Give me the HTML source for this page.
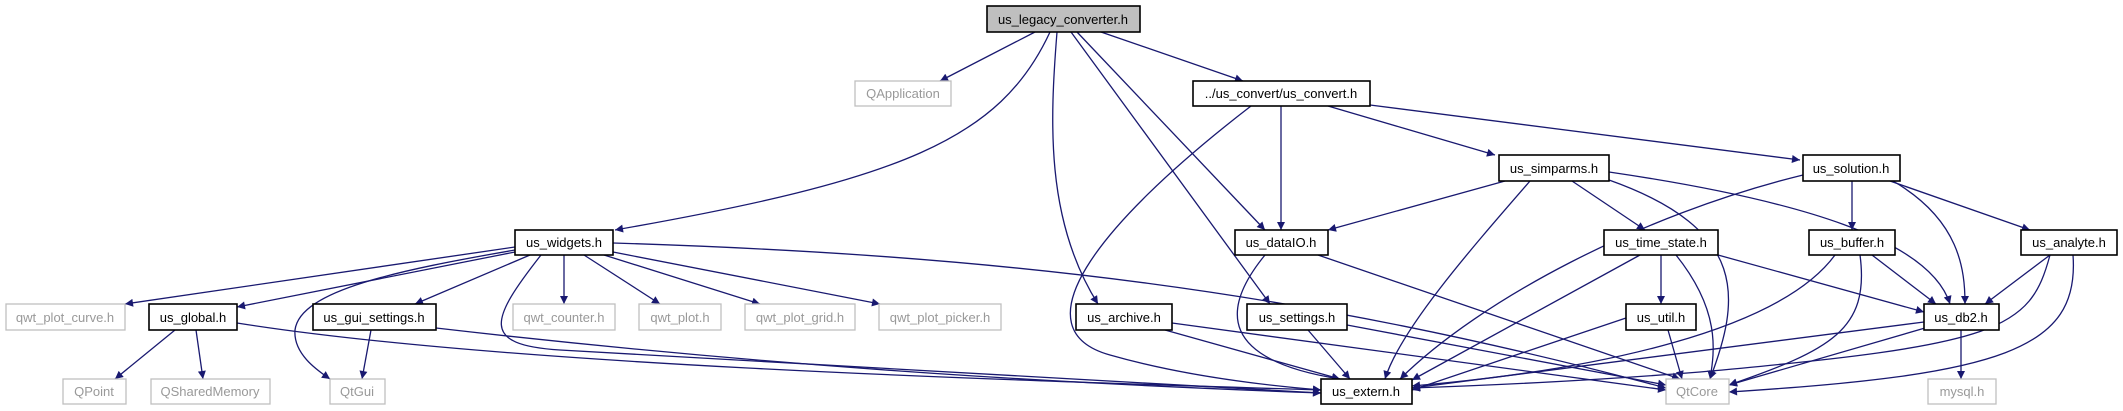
<!DOCTYPE html>
<html><head><meta charset="utf-8"><style>
html,body{margin:0;padding:0;background:#fff;}
svg{display:block;}
text{font-family:"Liberation Sans",Arial,sans-serif;font-size:13px;fill:#000;}
.e{fill:none;stroke:#191970;stroke-width:1.3;}
.n{fill:#fff;stroke:#000;stroke-width:1.6;}
.x{fill:#fff;stroke:#bfbfbf;stroke-width:1.3;}
.xt{fill:#999;}
</style></head><body>
<svg width="2123" height="411" viewBox="0 0 2123 411" xmlns="http://www.w3.org/2000/svg">
<defs>
<marker id="a" viewBox="0 0 10 10" refX="10" refY="5" markerWidth="10" markerHeight="8" markerUnits="userSpaceOnUse" orient="auto">
<path d="M0,0 L10,5 L0,10 z" fill="#191970"/>
</marker>
</defs>
<g class="e" marker-end="url(#a)">
<path d="M1035,32 L940,81"/>
<path d="M1050,32 C1000,140 900,180 615,230"/>
<path d="M1057,32 C1050,120 1045,220 1098,304"/>
<path d="M1071,32 L1270,304"/>
<path d="M1077,32 L1265,230"/>
<path d="M1101,32 L1243,81"/>
<path d="M1281,106 L1281,230"/>
<path d="M1251,106 C1090,230 1020,330 1110,355 C1180,375 1260,385 1321,390"/>
<path d="M1328,106 L1495,155"/>
<path d="M1370,105 L1800,160"/>
<path d="M1505,181 L1328,230"/>
<path d="M1530,181 C1470,250 1400,330 1385,379"/>
<path d="M1572,181 L1645,230"/>
<path d="M1609,180 C1750,230 1740,300 1710,379"/>
<path d="M1609,172 C1800,200 1930,240 1950,304"/>
<path d="M1803,175 C1640,215 1480,300 1400,379"/>
<path d="M1852,181 L1852,230"/>
<path d="M1893,181 C1960,220 1965,270 1965,304"/>
<path d="M1890,181 L2030,230"/>
<path d="M1265,255 C1220,310 1220,360 1340,379"/>
<path d="M1318,255 L1680,379"/>
<path d="M1661,255 L1661,304"/>
<path d="M1640,255 L1412,380"/>
<path d="M1676,255 C1720,310 1715,350 1710,379"/>
<path d="M1718,255 L1924,312"/>
<path d="M1835,255 C1780,330 1600,370 1412,386"/>
<path d="M1860,255 C1870,330 1830,350 1729,385"/>
<path d="M1872,255 L1936,304"/>
<path d="M2050,255 L1985,304"/>
<path d="M2050,255 C2030,330 2000,345 1700,372 C1600,380 1500,385 1412,388"/>
<path d="M2073,255 C2080,350 2000,375 1729,392"/>
<path d="M1924,322 L1412,388"/>
<path d="M1925,328 L1729,385"/>
<path d="M1961,330 L1961,379"/>
<path d="M1626,318 L1412,390"/>
<path d="M1668,330 L1682,379"/>
<path d="M1165,330 L1340,379"/>
<path d="M1172,323 L1666,390"/>
<path d="M1308,330 L1350,379"/>
<path d="M1347,325 L1666,385"/>
<path d="M515,247 L125,304"/>
<path d="M515,252 L237,307"/>
<path d="M515,250 C400,270 300,290 295,330 C293,355 320,372 330,379"/>
<path d="M530,255 L415,304"/>
<path d="M541,255 C490,320 480,345 560,350 C900,370 1200,385 1321,393"/>
<path d="M564,255 L564,304"/>
<path d="M584,255 L660,304"/>
<path d="M604,255 L760,304"/>
<path d="M613,252 L880,304"/>
<path d="M613,243 C1000,255 1300,290 1666,388"/>
<path d="M175,330 L115,379"/>
<path d="M196,330 L203,379"/>
<path d="M237,323 C500,365 1000,380 1321,390"/>
<path d="M371,330 L362,379"/>
<path d="M436,328 C800,370 1100,385 1321,393"/>
</g>
<g text-anchor="middle">
<rect x="987" y="6" width="153" height="26" fill="#bfbfbf" stroke="#000" stroke-width="1.6"/><text x="1063" y="24">us_legacy_converter.h</text>
<rect class="x" x="855" y="81" width="96" height="25"/><text class="xt" x="903" y="98">QApplication</text>
<rect class="n" x="1193" y="81" width="177" height="25"/><text x="1281" y="98">../us_convert/us_convert.h</text>
<rect class="n" x="1499" y="155" width="110" height="26"/><text x="1554" y="173">us_simparms.h</text>
<rect class="n" x="1803" y="155" width="97" height="26"/><text x="1851" y="173">us_solution.h</text>
<rect class="n" x="515" y="230" width="98" height="25"/><text x="564" y="247">us_widgets.h</text>
<rect class="n" x="1235" y="230" width="93" height="25"/><text x="1281" y="247">us_dataIO.h</text>
<rect class="n" x="1604" y="230" width="114" height="25"/><text x="1661" y="247">us_time_state.h</text>
<rect class="n" x="1809" y="230" width="86" height="25"/><text x="1852" y="247">us_buffer.h</text>
<rect class="n" x="2021" y="230" width="96" height="25"/><text x="2069" y="247">us_analyte.h</text>
<rect class="x" x="6" y="304" width="119" height="26"/><text class="xt" x="65" y="322">qwt_plot_curve.h</text>
<rect class="n" x="149" y="304" width="88" height="26"/><text x="193" y="322">us_global.h</text>
<rect class="n" x="313" y="304" width="123" height="26"/><text x="374" y="322">us_gui_settings.h</text>
<rect class="x" x="513" y="304" width="102" height="26"/><text class="xt" x="564" y="322">qwt_counter.h</text>
<rect class="x" x="639" y="304" width="82" height="26"/><text class="xt" x="680" y="322">qwt_plot.h</text>
<rect class="x" x="745" y="304" width="110" height="26"/><text class="xt" x="800" y="322">qwt_plot_grid.h</text>
<rect class="x" x="879" y="304" width="122" height="26"/><text class="xt" x="940" y="322">qwt_plot_picker.h</text>
<rect class="n" x="1076" y="304" width="96" height="26"/><text x="1124" y="322">us_archive.h</text>
<rect class="n" x="1247" y="304" width="100" height="26"/><text x="1297" y="322">us_settings.h</text>
<rect class="n" x="1626" y="304" width="70" height="26"/><text x="1661" y="322">us_util.h</text>
<rect class="n" x="1924" y="304" width="75" height="26"/><text x="1961" y="322">us_db2.h</text>
<rect class="x" x="63" y="379" width="63" height="25"/><text class="xt" x="94" y="396">QPoint</text>
<rect class="x" x="151" y="379" width="119" height="25"/><text class="xt" x="210" y="396">QSharedMemory</text>
<rect class="x" x="330" y="379" width="55" height="25"/><text class="xt" x="357" y="396">QtGui</text>
<rect class="n" x="1321" y="379" width="91" height="25"/><text x="1366" y="396">us_extern.h</text>
<rect class="x" x="1666" y="379" width="63" height="25"/><text class="xt" x="1697" y="396">QtCore</text>
<rect class="x" x="1928" y="379" width="68" height="25"/><text class="xt" x="1962" y="396">mysql.h</text>
</g>
</svg>
</body></html>
